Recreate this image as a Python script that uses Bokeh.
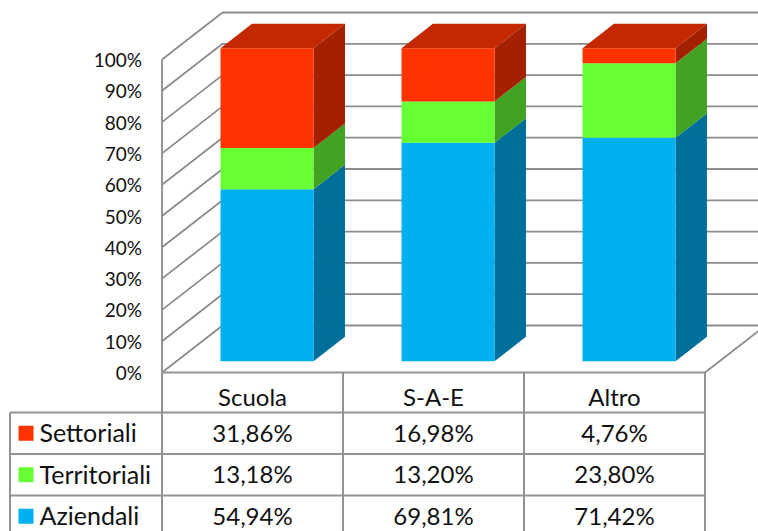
from bokeh.plotting import figure
from bokeh.models import LinearAxis, FixedTicker, PrintfTickFormatter, Range1d
from bokeh.core.properties import value
from bokeh.embed import file_html
from bokeh.resources import INLINE

categories = ["Scuola", "S-A-E", "Altro"]
series = ["Settoriali", "Territoriali", "Aziendali"]
settoriali = [31.86, 16.98, 4.76]
territoriali = [13.18, 13.20, 23.80]
aziendali = [54.94, 69.81, 71.42]
percent_ticks = list(range(0, 101, 10))

FRONT = {"Aziendali": "#00B0F0", "Territoriali": "#66FF33", "Settoriali": "#FF3300"}
SIDE = {"Aziendali": "#00709A", "Territoriali": "#41A321", "Settoriali": "#A32100"}
TOP = "#C42800"
GRID = "#8C8C8C"
TABLE = "#929292"
FONT = "Lato"

W, H = 758, 531
PX_CAT, PX_PCT = 181.0, 3.13       # pixels per category slot, per percent
ORIGIN_X, ORIGIN_Y = 161.5, 372.0  # canvas position of the chart's front-left 0%

x_start = -ORIGIN_X / PX_CAT
x_end = (W - ORIGIN_X) / PX_CAT
y_end = ORIGIN_Y / PX_PCT
y_start = (ORIGIN_Y - H) / PX_PCT

p = figure(width=W, height=H, output_backend="svg", toolbar_location=None,
           x_range=Range1d(x_start, x_end), y_range=Range1d(y_start, y_end),
           min_border=0, outline_line_color=None, background_fill_color="white")
p.xaxis.visible = False
p.yaxis.visible = False
p.grid.visible = False

DX = 60.5 / PX_CAT     # box depth
DY = 47.0 / PX_PCT
BAR_W = 93.0 / PX_CAT
GAP_F = 0.24           # bar front plane, as a share of the box depth
BAR_D = 0.52           # bar depth, as a share of the box depth

# walls
xs, ys = [], []
for t in percent_ticks:
    xs.append([0, DX, x_end + 0.1]); ys.append([t, t + DY, t + DY])
xs.append([0, 0]); ys.append([0, 100])
xs.append([3, 3 + DX]); ys.append([0, DY])
p.multi_line(xs, ys, line_color=GRID, line_width=1.8)

# bars
for i in range(3):
    x0 = i + 0.5 - BAR_W / 2 + GAP_F * DX
    x1 = x0 + BAR_W
    ox = BAR_D * DX
    oy = BAR_D * DY
    base = GAP_F * DY
    bottom = base
    for name, vals in (("Aziendali", aziendali), ("Territoriali", territoriali), ("Settoriali", settoriali)):
        top = bottom + vals[i]
        p.patch([x1, x1 + ox, x1 + ox, x1], [bottom, bottom + oy, top + oy, top],
                fill_color=SIDE[name], line_color=None)
        p.patch([x0, x1, x1, x0], [bottom, bottom, top, top],
                fill_color=FRONT[name], line_color=None)
        bottom = top
    p.patch([x0, x1, x1 + ox, x0 + ox], [bottom, bottom, bottom + oy, bottom + oy],
            fill_color=TOP, line_color=None)

# data table
ROW0, ROW1, ROW2 = -40 / PX_PCT, -81.5 / PX_PCT, -123 / PX_PCT
ROW_H = 41.5 / PX_PCT
TABLE_LEFT = (9.5 - ORIGIN_X) / PX_CAT
BOTTOM = y_start
p.multi_line(
    [[0, 3], [TABLE_LEFT, 3], [TABLE_LEFT, 3], [TABLE_LEFT, 3],
     [0, 0], [1, 1], [2, 2], [3, 3], [TABLE_LEFT, TABLE_LEFT]],
    [[0, 0], [ROW0, ROW0], [ROW1, ROW1], [ROW2, ROW2],
     [0, BOTTOM], [0, BOTTOM], [0, BOTTOM], [0, BOTTOM], [ROW0, BOTTOM]],
    line_color=TABLE, line_width=2)

rows = [ROW0 - ROW_H / 2, ROW1 - ROW_H / 2, ROW2 - ROW_H / 2]
table_values = [settoriali, territoriali, aziendali]
for name, yy, vals in zip(series, rows, table_values):
    sx = (25.5 - ORIGIN_X) / PX_CAT
    sw = 15 / PX_CAT / 2
    sh = 15 / PX_PCT / 2
    p.patch([sx - sw, sx + sw, sx + sw, sx - sw], [yy - sh, yy - sh, yy + sh, yy + sh],
            fill_color=FRONT[name], line_color=None)
    text_y = yy + 1.2 / PX_PCT
    p.text([(39 - ORIGIN_X) / PX_CAT], [text_y], text=[name], text_font=value(FONT), text_font_size="25px",
           text_align="left", text_baseline="middle", text_color="#111111")
    p.text([0.5, 1.5, 2.5], [text_y] * 3,
           text=[f"{v:.2f}%".replace(".", ",") for v in vals],
           text_font=value(FONT), text_font_size="24px",
           text_align="center", text_baseline="middle", text_color="#111111")

# axes
y_axis = LinearAxis(fixed_location=0, ticker=FixedTicker(ticks=percent_ticks),
                    formatter=PrintfTickFormatter(format="%d%%"), axis_line_color=None,
                    major_tick_line_color=None, minor_tick_line_color=None,
                    major_label_text_font=FONT, major_label_text_font_size="19px",
                    major_label_text_color="#111111", major_label_standoff=14)
p.add_layout(y_axis, "left")
x_axis = LinearAxis(fixed_location=0, ticker=FixedTicker(ticks=[0.5, 1.5, 2.5]),
                    major_label_overrides={0.5: categories[0], 1.5: categories[1], 2.5: categories[2]},
                    axis_line_color=None, major_tick_line_color=None, minor_tick_line_color=None,
                    major_label_text_font=FONT, major_label_text_font_size="24px",
                    major_label_text_color="#111111", major_label_standoff=3)
p.add_layout(x_axis, "below")

open("out.html", "w").write(file_html(p, INLINE))
